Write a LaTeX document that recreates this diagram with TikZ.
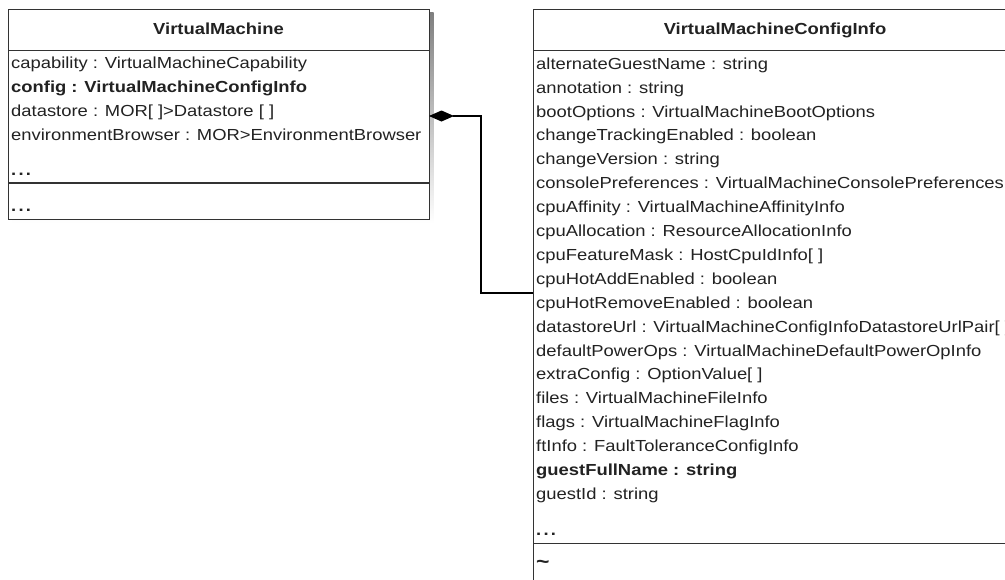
\documentclass[tikz,border=0pt]{standalone}
\usepackage{fontspec}
\setmainfont{Liberation Sans}[FakeStretch=1.15]
\usetikzlibrary{arrows.meta}
\definecolor{txt}{HTML}{222222}
\definecolor{edge}{HTML}{333333}
\definecolor{shade}{HTML}{C4C4C4}
\newcommand{\udots}{\bfseries .\hspace{2.2pt}.\hspace{2.2pt}.}
\tikzset{
  attr/.style={anchor=west, inner sep=0pt, text height=11.5pt, text depth=3pt, text=txt, font=\fontsize{16}{19}\selectfont},
  ttl/.style={inner sep=0pt, text height=11.5pt, text depth=3pt, text=txt, font=\fontsize{16}{19}\selectfont\bfseries},
  classbox/.style={draw=edge, line width=1.4pt, fill=white},
  sep/.style={draw=edge, line width=1.4pt},
  conn/.style={draw=black, line width=1.1pt},
}
\begin{document}
\begin{tikzpicture}[x=1pt,y=-1pt]
\clip (0,0) rectangle (1005,579);
\fill[white] (0,0) rectangle (1005,579);
% ---- VirtualMachine ----
\fill[shade] (12,12.5) rectangle (433.5,223);
\node[classbox, minimum width=421pt, minimum height=210pt, anchor=north west, inner sep=0pt] (vm) at (8,8.5) {};
\node[ttl] (vmt) at (218.5,30) {VirtualMachine};
\draw[sep] (8,50.5) -- (429,50.5);
\node[attr] (vm1) at (11,64) {capability : VirtualMachineCapability};
\node[attr] (vm2) at (11,88) {\bfseries config : VirtualMachineConfigInfo};
\node[attr] (vm3) at (11,112) {datastore : MOR[ ]>Datastore [ ]};
\node[attr] (vm4) at (11,136) {environmentBrowser : MOR>EnvironmentBrowser};
\node[attr] (vm5) at (11,171) {\udots};
\draw[sep] (8,183) -- (429,183);
\node[attr] (vm6) at (11,207) {\udots};
% ---- VirtualMachineConfigInfo ----
\fill[shade] (537,12.5) rectangle (1022,620);
\node[classbox, minimum width=484pt, minimum height=610pt, anchor=north west, inner sep=0pt] (cfg) at (533,8.5) {};
\node[ttl] (cfgt) at (775,30) {VirtualMachineConfigInfo};
\draw[sep] (533,50.5) -- (1017,50.5);
\foreach \t [count=\i] in {
  {alternateGuestName : string},
  {annotation : string},
  {bootOptions : VirtualMachineBootOptions},
  {changeTrackingEnabled : boolean},
  {changeVersion : string},
  {consolePreferences : VirtualMachineConsolePreferences},
  {cpuAffinity : VirtualMachineAffinityInfo},
  {cpuAllocation : ResourceAllocationInfo},
  {cpuFeatureMask : HostCpuIdInfo[ ]},
  {cpuHotAddEnabled : boolean},
  {cpuHotRemoveEnabled : boolean},
  {datastoreUrl : VirtualMachineConfigInfoDatastoreUrlPair[ ]},
  {defaultPowerOps : VirtualMachineDefaultPowerOpInfo},
  {extraConfig : OptionValue[ ]},
  {files : VirtualMachineFileInfo},
  {flags : VirtualMachineFlagInfo},
  {ftInfo : FaultToleranceConfigInfo},
  {\bfseries guestFullName : string},
  {guestId : string}}
  \node[attr] (c\i) at (536,{65+23.9*(\i-1)}) {\t};
\node[attr] (cdots) at (536,531) {\udots};
\draw[sep] (533,543.5) -- (1017,543.5);
\node[attr] (ctilde) at (536,564) {\bfseries\fontsize{20}{20}\selectfont\textasciitilde};
% ---- composition connector ----
\coordinate (dA) at (429,116);
\coordinate (bend) at (481,116);
\coordinate (dB) at (533,293);
\draw[conn, {Diamond[length=25pt,width=11pt]}-] (dA) -- (bend) |- (dB);
\end{tikzpicture}
\end{document}
